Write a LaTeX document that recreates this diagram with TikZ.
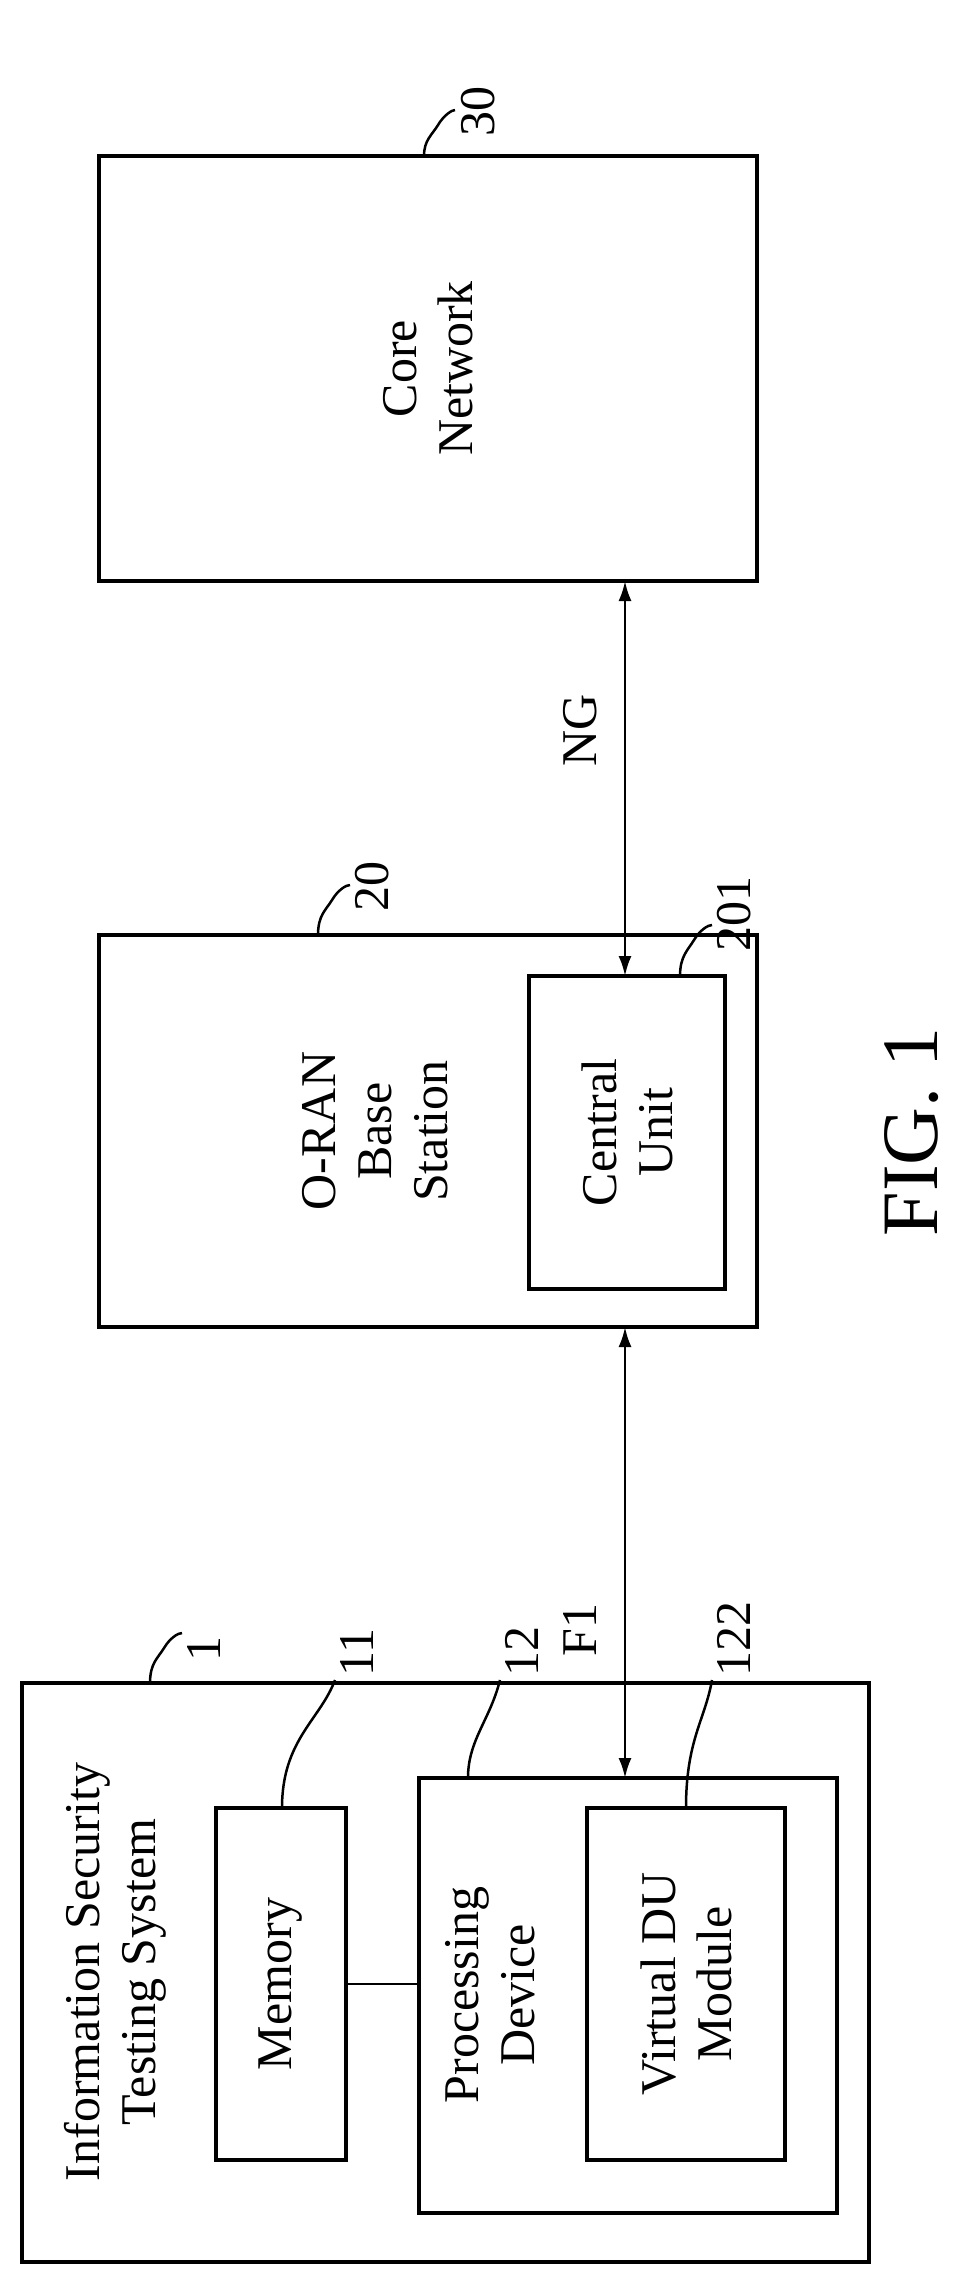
\documentclass[tikz,border=0pt]{standalone}
\usepackage{fontspec}
\setmainfont{Liberation Serif}
\usetikzlibrary{positioning,arrows.meta}
\tikzset{
  blk/.style={draw, line width=4pt, inner sep=0pt},
  txt/.style={rotate=90, align=center, font=\fontsize{50}{56}\selectfont},
  ref/.style={rotate=90, font=\fontsize{50}{56}\selectfont, anchor=west},
  lead/.style={line width=2.5pt},
  link/.style={line width=2.5pt, {Latex[length=20pt,width=13pt]}-{Latex[length=20pt,width=13pt]}}
}
\begin{document}
\begin{tikzpicture}[x=1pt,y=-1pt]
    \useasboundingbox (0,0) rectangle (979,2288);
    % boxes
    \node[blk, minimum width=658pt, minimum height=425pt] (core) at (428,368.5) {};
    \node[txt] at (core) {Core\\Network};
    \node[blk, minimum width=658pt, minimum height=392pt] (oran) at (428,1131) {};
    \node[txt] at (375,1131) {O-RAN\\Base\\Station};
    \node[blk, minimum width=196pt, minimum height=313pt] (cu) at (627,1132.5) {};
    \node[txt] at (cu) {Central\\Unit};
    \node[blk, minimum width=847pt, minimum height=579pt] (sys) at (445.5,1972.5) {};
    \node[txt] at (115,1972) {Information Security\\Testing System};
    \node[blk, minimum width=130pt, minimum height=352pt] (mem) at (281,1984) {};
    \node[txt] at (mem) {Memory};
    \node[blk, minimum width=418pt, minimum height=435pt] (proc) at (628,1995.5) {};
    \node[txt] at (490,1995) {Processing\\Device};
    \node[blk, minimum width=198pt, minimum height=352pt] (vdu) at (686,1984) {};
    \node[txt] at (vdu) {Virtual DU\\Module};
    % connectors
    \draw[lead] (mem.east) -- (proc.west |- mem.east);
    \coordinate (f1t) at (625,1327);
    \coordinate (f1b) at (625,1778);
    \coordinate (ngt) at (625,581);
    \coordinate (ngb) at (625,976);
    \draw[link] (f1t) -- (f1b);
    \draw[link] (ngt) -- (ngb);
    \node[ref, anchor=center] at (580,1630) {F1};
    \node[ref, anchor=center] at (580,730) {NG};
    % reference labels
    \draw[lead] (424,156) .. controls (424,140) and (432,135) .. (438,125) .. controls (444,115) and (452,110) .. (455,110);
    \node[ref] at (478,140) {30};
    \draw[lead] (318,935) .. controls (318,915) and (326,910) .. (332,900) .. controls (338,890) and (346,885) .. (350,885);
    \node[ref] at (372,915) {20};
    \draw[lead] (680,976) .. controls (680,956) and (688,950) .. (694,940) .. controls (700,930) and (708,925) .. (712,925);
    \node[ref] at (734,955) {201};
    \draw[lead] (150,1683) .. controls (150,1663) and (158,1658) .. (164,1648) .. controls (170,1638) and (178,1633) .. (182,1633);
    \node[ref] at (204,1665) {1};
    \draw[lead] (282,1808) .. controls (282,1740) and (320,1720) .. (335,1680);
    \node[ref] at (357,1680) {11};
    \draw[lead] (468,1778) .. controls (468,1740) and (490,1720) .. (500,1680);
    \node[ref] at (522,1680) {12};
    \draw[lead] (686,1808) .. controls (686,1740) and (705,1720) .. (712,1680);
    \node[ref] at (734,1680) {122};
    \node[rotate=90, font=\fontsize{80}{88}\selectfont] (fig) at (912,1132) {FIG. 1};
\end{tikzpicture}
\end{document}
